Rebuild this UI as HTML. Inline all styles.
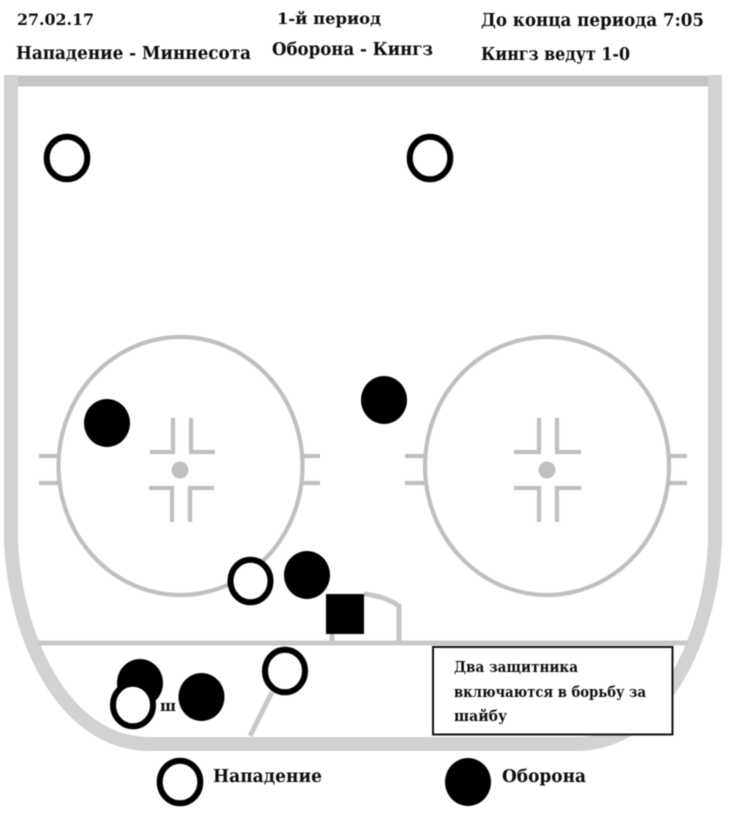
<!DOCTYPE html>
<html lang="ru">
<head>
<meta charset="utf-8">
<title>Схема</title>
<style>
html,body{margin:0;padding:0;background:#fff}
svg{display:block}
text{font-family:"DejaVu Serif","Liberation Serif",serif;font-weight:bold;fill:#0c0c0c}
.soft{filter:blur(0.45px)}
</style>
</head>
<body>
<svg xmlns="http://www.w3.org/2000/svg" width="730" height="817" viewBox="0 0 730 817">
<rect width="730" height="817" fill="#fff"/>
<g class="soft">
<!-- Rink -->
<path d="M11,75 V540 C14,630 60,744 150,744 H576 C666,744 712,630 715,540 V75" fill="none" stroke="#d2d2d2" stroke-width="14"/>
<path d="M18,81 H708" fill="none" stroke="#c4c4c4" stroke-width="11"/>
<path d="M37,643 H688" fill="none" stroke="#c8c8c8" stroke-width="5"/>
<!-- Crease -->
<path d="M364,594 Q385,596 399,606 V641 M332,634 V641" fill="none" stroke="#c6c6c6" stroke-width="5"/>
<path d="M272,692 L250,736" fill="none" stroke="#c8c8c8" stroke-width="5"/>
<!-- Faceoff -->
<g fill="none" stroke="#bfbfbf" stroke-width="4.200">
<ellipse cx="180.500" cy="466" rx="122" ry="129"/>
<path d="M39,456 H58 M39,483 H58 M303,456 H320 M303,483 H320"/>
<path d="M173,418 V452 H150 M191,418 V452 H215 M172,522 V488 H149 M190,522 V488 H214"/>
<ellipse cx="547" cy="466" rx="122" ry="129"/>
<path d="M405,456 H425 M405,483 H425 M669,456 H687 M669,483 H687"/>
<path d="M539,418 V452 H514 M557,418 V452 H581 M539,522 V488 H514 M557,522 V488 H581"/>
</g>
<circle cx="180" cy="470" r="8.500" fill="#bfbfbf"/>
<circle cx="547" cy="470" r="8.500" fill="#bfbfbf"/>
<!-- Players -->
<g fill="#000">
<ellipse cx="107" cy="423" rx="23" ry="24"/>
<ellipse cx="384" cy="400" rx="23" ry="24"/>
<ellipse cx="307" cy="575" rx="23" ry="24"/>
<ellipse cx="140" cy="683" rx="23" ry="24"/>
<ellipse cx="201.500" cy="697" rx="23" ry="24"/>
<ellipse cx="468" cy="782" rx="23" ry="24"/>
<rect x="326" y="594" width="38" height="40"/>
</g>
<g fill="#fff" stroke="#000" stroke-width="6">
<ellipse cx="67" cy="158" rx="20.300" ry="21.300"/>
<ellipse cx="430" cy="158" rx="20.300" ry="21.300"/>
<ellipse cx="250.500" cy="581" rx="20" ry="21.300"/>
<ellipse cx="133" cy="705" rx="20" ry="21.300"/>
<ellipse cx="285" cy="671" rx="20" ry="21.300"/>
<ellipse cx="180" cy="782" rx="20.300" ry="21.300"/>
</g>
<!-- Note -->
<rect x="433" y="647" width="239.500" height="87.500" fill="#fff" stroke="#111" stroke-width="2"/>
<!-- Text -->
<text x="17" y="25" font-size="16" textLength="77" lengthAdjust="spacingAndGlyphs">27.02.17</text>
<text x="277" y="24" font-size="16" textLength="104" lengthAdjust="spacingAndGlyphs">1-й период</text>
<text x="481" y="26" font-size="17.500" textLength="223" lengthAdjust="spacingAndGlyphs">До конца периода 7:05</text>
<text x="16" y="59" font-size="17.500" textLength="235" lengthAdjust="spacingAndGlyphs">Нападение - Миннесота</text>
<text x="272" y="55" font-size="17.500" textLength="161" lengthAdjust="spacingAndGlyphs">Оборона - Кингз</text>
<text x="481" y="60" font-size="17.500" textLength="149" lengthAdjust="spacingAndGlyphs">Кингз ведут 1-0</text>
<text x="160" y="711" font-size="15" textLength="16" lengthAdjust="spacingAndGlyphs">ш</text>
<text x="213" y="782" font-size="17.500" textLength="109" lengthAdjust="spacingAndGlyphs">Нападение</text>
<text x="502" y="782" font-size="17.500" textLength="84" lengthAdjust="spacingAndGlyphs">Оборона</text>
<text x="454" y="672" font-size="15" textLength="124" lengthAdjust="spacingAndGlyphs">Два защитника</text>
<text x="454" y="697" font-size="15" textLength="192" lengthAdjust="spacingAndGlyphs">включаются в борьбу за</text>
<text x="454" y="721" font-size="15" textLength="53" lengthAdjust="spacingAndGlyphs">шайбу</text>
</g>
</svg>
</body>
</html>
